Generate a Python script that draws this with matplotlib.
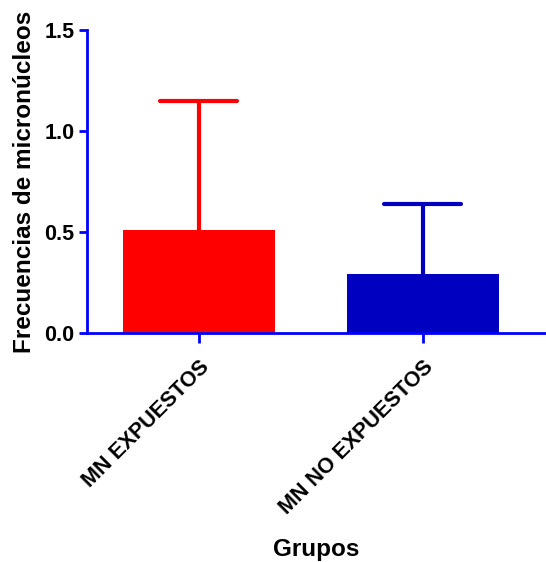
import numpy as np
from matplotlib import pyplot as plt

# datos
grupos = ['MN EXPUESTOS', 'MN NO EXPUESTOS']
medias = np.array([0.51, 0.29])
error_sup = np.array([0.64, 0.35])  # solo hacia arriba
colores = ['#ff0000', '#0000c0']

plt.rcParams['font.family'] = ['Liberation Sans', 'DejaVu Sans']
plt.rcParams['font.weight'] = 'bold'

fig = plt.figure(figsize=(5.46, 5.62), dpi=100)
ax = fig.add_axes([0.159, 0.4075, 0.841, 0.539])

x = np.arange(len(grupos))
ax.bar(x, medias, width=0.68, color=colores, zorder=2)
# barra de error superior (linea + tapa), detras de la barra
ax.vlines(x, medias, medias + error_sup, colors=colores, linewidth=3, zorder=1)
ax.hlines(medias + error_sup, x - 0.172, x + 0.172, colors=colores, linewidth=3,
          capstyle='round', zorder=1)

ax.set_xlim(-0.5, 1.55)
ax.set_ylim(0, 1.5)
ax.set_yticks([0.0, 0.5, 1.0, 1.5])
ax.set_yticklabels(['0.0', '0.5', '1.0', '1.5'])
ax.set_xticks(x)
ax.set_xticklabels(grupos, rotation=45, ha='right', rotation_mode='anchor')

for s in ['top', 'right']:
    ax.spines[s].set_visible(False)
for s in ['left', 'bottom']:
    ax.spines[s].set_color('#0000ff')
    ax.spines[s].set_linewidth(2)
ax.tick_params(colors='#0000ff', width=2, length=6, labelcolor='black', labelsize=15.5, pad=3)
ax.tick_params(axis='x', length=7, pad=10)

ax.set_ylabel('Frecuencias de micronúcleos', fontsize=17.5, fontweight='bold', labelpad=6)
ax.set_xlabel('Grupos', fontsize=17.5, fontweight='bold', labelpad=14)

fig.savefig('out.png', dpi=100)
